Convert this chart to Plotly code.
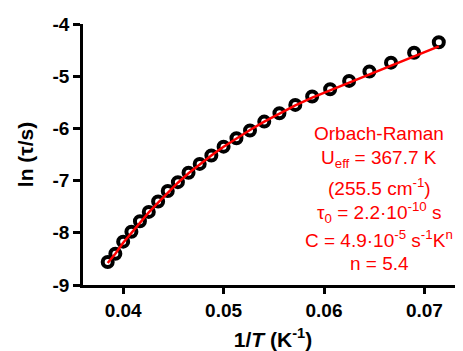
import plotly.graph_objects as go

# 1/T (K^-1) and ln(tau/s)
inv_T = [0.03846, 0.03922, 0.04000, 0.04082, 0.04167, 0.04255, 0.04348, 0.04444,
         0.04545, 0.04651, 0.04762, 0.04878, 0.05000, 0.05128, 0.05263, 0.05405,
         0.05556, 0.05714, 0.05882, 0.06061, 0.06250, 0.06452, 0.06667, 0.06897,
         0.07143]
ln_tau = [-8.56, -8.40, -8.17, -7.98, -7.78, -7.60, -7.40, -7.20,
          -7.03, -6.85, -6.68, -6.52, -6.35, -6.19, -6.04, -5.87,
          -5.71, -5.55, -5.39, -5.25, -5.09, -4.91, -4.74, -4.55,
          -4.35]
fit_y = [-8.58, -8.40, -8.19, -8.00, -7.80, -7.61, -7.42, -7.23,
         -7.04, -6.86, -6.69, -6.52, -6.35, -6.19, -6.03, -5.87,
         -5.72, -5.56, -5.41, -5.27, -5.12, -4.96, -4.80, -4.62,
         -4.43]

x_ticks = [0.04, 0.05, 0.06, 0.07]
y_ticks = [-9, -8, -7, -6, -5, -4]

label_lines = [
    "Orbach-Raman",
    "U<sub>eff</sub> = 367.7 K",
    "(255.5 cm<sup>-1</sup>)",
    "τ<sub>0</sub> = 2.2·10<sup>-10</sup> s",
    "C = 4.9·10<sup>-5</sup> s<sup>-1</sup>K<sup>n</sup>",
    "n = 5.4",
]
label_y = [0.582, 0.483, 0.375, 0.276, 0.176, 0.084]

FONT = "Arial, Liberation Sans, sans-serif"

fig = go.Figure()
fig.add_trace(go.Scatter(
    x=inv_T, y=ln_tau, mode="markers",
    marker=dict(symbol="circle", size=10, color="white",
                line=dict(color="black", width=4)),
    showlegend=False))
fig.add_trace(go.Scatter(
    x=inv_T, y=fit_y, mode="lines", line=dict(color="#ff0000", width=2.5),
    showlegend=False))

for txt, yy in zip(label_lines, label_y):
    fig.add_annotation(text=txt, xref="paper", yref="paper", x=0.779, y=yy,
                       showarrow=False, xanchor="center", yanchor="middle",
                       font=dict(family=FONT, size=19, color="#ff0000"))

# the page body has an 8px margin, so the figure is shrunk by that amount
fig.update_layout(
    width=455, height=343,
    margin=dict(l=75, r=0, t=16, b=66),
    paper_bgcolor="white", plot_bgcolor="white",
    font=dict(family=FONT, color="black"),
)
fig.update_xaxes(
    range=[0.036, 0.07384], tickvals=x_ticks, ticktext=[f"{v:.2f}" for v in x_ticks],
    showgrid=False, zeroline=False, showline=True, linecolor="black", linewidth=2.5,
    ticks="outside", ticklen=6, tickwidth=2.5, tickcolor="black",
    tickfont=dict(family=FONT, size=19, color="black", weight="bold"),
    title=dict(text="1/<i>T</i> (K<sup>-1</sup>)", standoff=17,
               font=dict(family=FONT, size=21, color="black", weight="bold")),
)
fig.update_yaxes(
    range=[-9, -4], tickvals=y_ticks, ticktext=[str(v) for v in y_ticks],
    showgrid=False, zeroline=False, showline=True, linecolor="black", linewidth=2.5,
    ticks="outside", ticklen=7, tickwidth=2.5, tickcolor="black",
    tickfont=dict(family=FONT, size=19, color="black", weight="bold"),
    title=dict(text="ln (τ/s)", standoff=14,
               font=dict(family=FONT, size=21, color="black", weight="bold")),
)

fig.write_html("out.html")
